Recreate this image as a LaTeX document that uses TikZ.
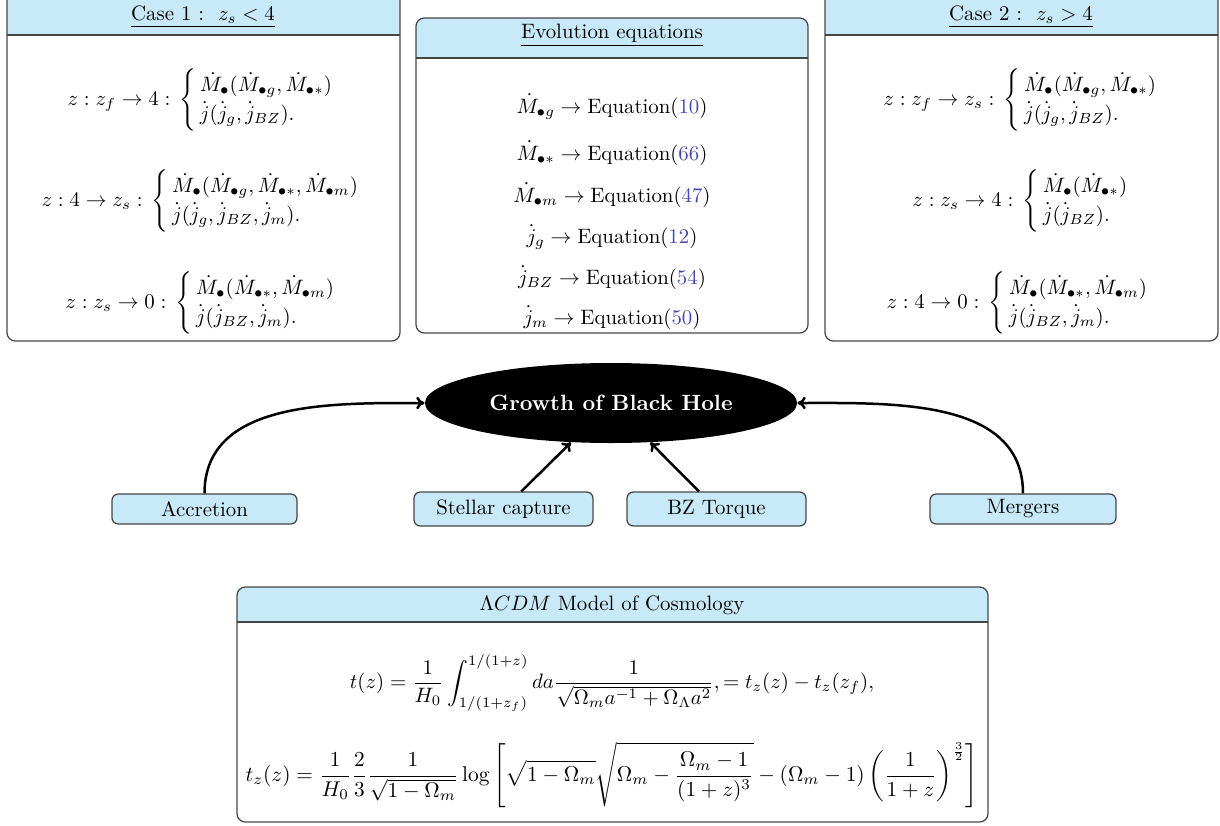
\documentclass[tikz,border=0pt]{standalone}
\usepackage{amsmath,amssymb}
\usetikzlibrary{shapes.geometric,arrows.meta,fit,calc}
\definecolor{hdr}{RGB}{200,233,248}
\definecolor{frame}{RGB}{70,70,70}
\definecolor{eqref}{RGB}{72,72,178}
\newcommand{\eqn}[1]{\text{Equation(}{\color{eqref}\text{#1}}\text{)}}
\newcommand{\twocase}[2]{\,\left\{\vrule height 19pt depth 14pt width 0pt\,\def\arraystretch{1.15}\begin{array}{@{}l@{}}#1\\#2\end{array}\right.}
\begin{document}
\begin{tikzpicture}[x=0.48pt,y=-0.48pt,
  panel/.style={draw=frame, line width=0.6pt, rounded corners=4pt, inner sep=0pt},
  hdrline/.style={draw=frame, line width=0.6pt},
  title/.style={inner sep=1pt},
  row/.style={inner sep=0pt},
  smallbox/.style={draw=frame, fill=hdr, line width=0.6pt, rounded corners=3pt, inner sep=0pt},
  bhole/.style={ellipse, fill=black, text=white, font=\fontsize{10.6pt}{12pt}\selectfont\bfseries, minimum width=178.6pt, minimum height=38.4pt, inner sep=0pt},
  arr/.style={-{To[length=4pt,width=6pt]}, line width=1.2pt}]
\useasboundingbox (0,0) rectangle (1220,825);

% ---------- panel 1 ----------
\begin{scope}
  \clip[rounded corners=4pt] (7,-12) rectangle (400,341);
  \fill[hdr] (7,-12) rectangle (400,35);
\end{scope}
\draw[hdrline] (7,35) -- (400,35);
\node[panel, fit={(7,-12) (400,341)}] (case1) {};
\node[title] (case1t) at (203,17) {\underline{Case 1 :\ \ $z_s<4$}};
\node[row] (c1r1) at (201,100) {$z:z_f\to 4:\twocase{\dot M_\bullet(\dot M_{\bullet g},\dot M_{\bullet *})}{\dot j(\dot j_g,\dot j_{BZ}).}$};
\node[row] (c1r2) at (201,201) {$z:4\to z_s:\twocase{\dot M_\bullet(\dot M_{\bullet g},\dot M_{\bullet *},\dot M_{\bullet m})}{\dot j(\dot j_g,\dot j_{BZ},\dot j_m).}$};
\node[row] (c1r3) at (201,303) {$z:z_s\to 0:\twocase{\dot M_\bullet(\dot M_{\bullet *},\dot M_{\bullet m})}{\dot j(\dot j_{BZ},\dot j_m).}$};

% ---------- panel 2 ----------
\begin{scope}
  \clip[rounded corners=4pt] (416,18) rectangle (808,333);
  \fill[hdr] (416,18) rectangle (808,58);
\end{scope}
\draw[hdrline] (416,58) -- (808,58);
\node[panel, fit={(416,18) (808,333)}] (evol) {};
\node[title] (evolt) at (612,35) {\underline{Evolution equations}};
\node[row, anchor=base] (e1) at (612,113) {$\dot M_{\bullet g}\to\eqn{10}$};
\node[row, anchor=base] (e2) at (612,160) {$\dot M_{\bullet *}\to\eqn{66}$};
\node[row, anchor=base] (e3) at (612,202) {$\dot M_{\bullet m}\to\eqn{47}$};
\node[row, anchor=base] (e4) at (612,243) {$\dot j_g\to\eqn{12}$};
\node[row, anchor=base] (e5) at (612,284) {$\dot j_{BZ}\to\eqn{54}$};
\node[row, anchor=base] (e6) at (612,324) {$\dot j_m\to\eqn{50}$};

% ---------- panel 3 ----------
\begin{scope}
  \clip[rounded corners=4pt] (825,-12) rectangle (1218,341);
  \fill[hdr] (825,-12) rectangle (1218,35);
\end{scope}
\draw[hdrline] (825,35) -- (1218,35);
\node[panel, fit={(825,-12) (1218,341)}] (case2) {};
\node[title] (case2t) at (1021,17) {\underline{Case 2 :\ \ $z_s>4$}};
\node[row] (c2r1) at (1021,100) {$z:z_f\to z_s:\twocase{\dot M_\bullet(\dot M_{\bullet g},\dot M_{\bullet *})}{\dot j(\dot j_g,\dot j_{BZ}).}$};
\node[row] (c2r2) at (1021,201) {$z:z_s\to 4:\twocase{\dot M_\bullet(\dot M_{\bullet *})}{\dot j(\dot j_{BZ}).}$};
\node[row] (c2r3) at (1018,303) {$z:4\to 0:\twocase{\dot M_\bullet(\dot M_{\bullet *},\dot M_{\bullet m})}{\dot j(\dot j_{BZ},\dot j_m).}$};

% ---------- centre graph ----------
\node[bhole] (bh) at (611,403) {Growth of Black Hole};
\node[smallbox, minimum width=88.8pt, minimum height=14.4pt] (acc) at (204.5,509) {Accretion};
\node[smallbox, minimum width=85.9pt, minimum height=16.3pt] (sc) at (503.5,509) {Stellar capture};
\node[smallbox, minimum width=85.9pt, minimum height=16.3pt] (bz) at (716.5,509) {BZ Torque};
\node[smallbox, minimum width=89.3pt, minimum height=14.4pt] (mer) at (1023,509) {Mergers};

\draw[arr] (acc.north) to[out=90,in=180] (bh.west);
\draw[arr] (mer.north) to[out=90,in=0] (bh.east);
\draw[arr] (sc) -- (bh);
\draw[arr] (bz) -- (bh);

% ---------- panel 4 ----------
\begin{scope}
  \clip[rounded corners=4pt] (237,587) rectangle (988,822);
  \fill[hdr] (237,587) rectangle (988,622);
\end{scope}
\draw[hdrline] (237,622) -- (988,622);
\node[panel, fit={(237,587) (988,822)}] (lcdm) {};
\node[title] (lcdmt) at (612,605) {$\Lambda CDM$ Model of Cosmology};
\node[row] (q1) at (612,683) {$\displaystyle t(z)=\frac{1}{H_0}\int_{1/(1+z_f)}^{1/(1+z)}da\frac{1}{\sqrt{\Omega_m a^{-1}+\Omega_\Lambda a^2}},=t_z(z)-t_z(z_f),$};
\node[row, scale=1.025] (q2) at (612,775) {$\displaystyle t_z(z)=\frac{1}{H_0}\frac{2}{3}\frac{1}{\sqrt{1-\Omega_m}}\log\left[\sqrt{1-\Omega_m}\sqrt{\Omega_m-\frac{\Omega_m-1}{(1+z)^3}}-(\Omega_m-1)\left(\frac{1}{1+z}\right)^{\frac{3}{2}}\right]$};
\end{tikzpicture}
\end{document}
